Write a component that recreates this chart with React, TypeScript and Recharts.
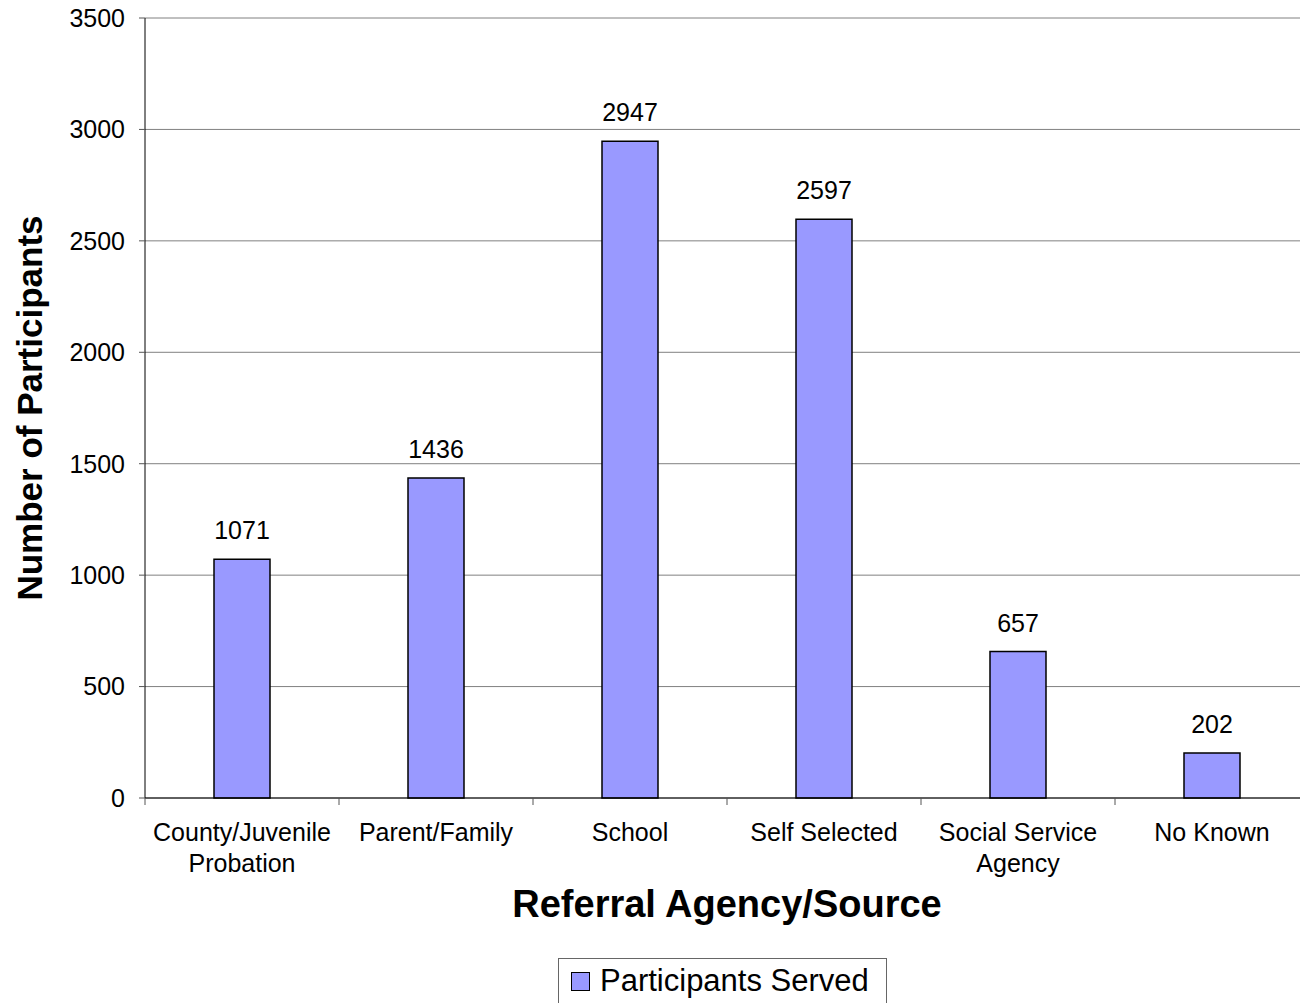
import { BarChart, Bar, XAxis, YAxis, CartesianGrid, LabelList, Label } from 'recharts'

const categories = ['County/Juvenile Probation', 'Parent/Family', 'School', 'Self Selected', 'Social Service Agency', 'No Known']
const tickLines: string[][] = [
    ['County/Juvenile', 'Probation'],
    ['Parent/Family'],
    ['School'],
    ['Self Selected'],
    ['Social Service', 'Agency'],
    ['No Known'],
]
const participants = [1071, 1436, 2947, 2597, 657, 202]
const yTicks = [0, 500, 1000, 1500, 2000, 2500, 3000, 3500]

const BAR = '#9999ff'
const FONT = '"Liberation Sans", Arial, sans-serif'

// label lines plus the small divider ticks that sit between categories
function CategoryTick(props: any) {
    const { x, y, index, width } = props
    const lines = tickLines[index] || []
    const half = width / categories.length / 2
    const last = index === categories.length - 1
    return (
        <g>
            <line x1={x - half} x2={x - half} y1={y} y2={y + 7} stroke='#555' />
            {last && <line x1={x + half} x2={x + half} y1={y} y2={y + 7} stroke='#555' />}
            <text x={x} y={y} textAnchor='middle' fill='#000' fontSize={25} fontFamily={FONT}>
                {lines.map((l, i) => (
                    <tspan key={i} x={x} dy={i === 0 ? 43 : 31}>{l}</tspan>
                ))}
            </text>
        </g>
    )
}

export default function App() {
    const data = categories.map((c, i) => ({ name: c, value: participants[i] }))

    return (
        <div style={{ position: 'absolute', left: 0, top: 0, width: 1300, height: 1003, overflow: 'hidden', background: '#fff', fontFamily: FONT }}>
            <BarChart width={1320} height={1003} data={data} margin={{ top: 18, right: 11, left: 0, bottom: 80 }}>
                <CartesianGrid vertical={false} stroke='#808080' strokeWidth={1} />
                <XAxis dataKey='name' height={125} interval={0} tickLine={false} tickSize={0} tickMargin={0}
                    axisLine={{ stroke: '#000' }} tick={<CategoryTick />}>
                    <Label value='Referral Agency/Source' position='insideBottom' offset={6}
                        style={{ fontSize: 38, fontWeight: 'bold', fill: '#000', fontFamily: FONT }} />
                </XAxis>
                <YAxis width={145} domain={[0, 3500]} ticks={yTicks} interval={0}
                    axisLine={{ stroke: '#000' }} tickLine={{ stroke: '#555' }} tickSize={6} tickMargin={14}
                    tick={{ fontSize: 25, fill: '#000', fontFamily: FONT }}>
                    <Label value='Number of Participants' angle={-90} position='insideLeft' offset={30}
                        style={{ textAnchor: 'middle', fontSize: 35, fontWeight: 'bold', fill: '#000', fontFamily: FONT }} />
                </YAxis>
                <Bar dataKey='value' fill={BAR} stroke='#000' strokeWidth={1.5} barSize={56} isAnimationActive={false}>
                    <LabelList dataKey='value' position='top' offset={20} fill='#000' fontSize={25} fontFamily={FONT} />
                </Bar>
            </BarChart>
            <div style={{ position: 'absolute', left: 558, top: 958, width: 329, height: 60, border: '1px solid #666', boxSizing: 'border-box', display: 'flex', alignItems: 'flex-start' }}>
                <span style={{ display: 'inline-block', width: 17, height: 17, background: BAR, border: '1px solid #000', marginLeft: 12, marginTop: 13 }} />
                <span style={{ fontSize: 31, marginLeft: 10, marginTop: 2, lineHeight: '40px', color: '#000' }}>Participants Served</span>
            </div>
        </div>
    )
}
